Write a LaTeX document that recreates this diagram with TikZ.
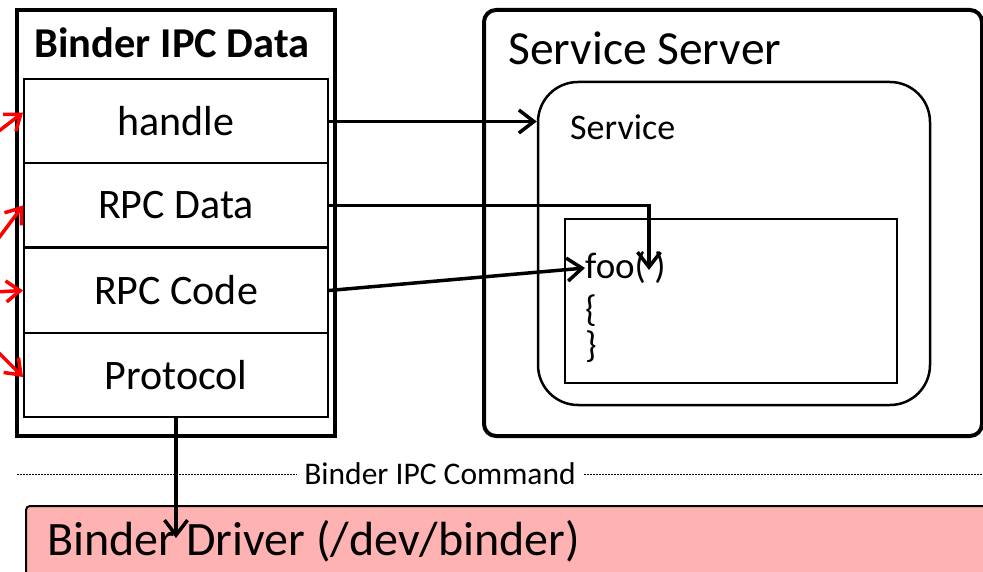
\documentclass[tikz,border=0pt]{standalone}
\usepackage{fontspec}
\setmainfont{Carlito}
\usetikzlibrary{arrows.meta}
\definecolor{driverpink}{RGB}{255,178,178}
\tikzset{
  field/.style={draw, line width=2pt, minimum width=304pt, minimum height=84pt, inner sep=0pt, font=\fontsize{42}{44}\selectfont},
  link/.style={-{Straight Barb[length=15pt,width=23pt,line width=3.5pt]}, line width=3.5pt},
  caller/.style={-{Straight Barb[length=14pt,width=21pt,line width=3.5pt]}, red, line width=3.5pt},
  cmdline/.style={line width=1pt, dash pattern=on 2pt off 1pt}
}
\begin{document}
\begin{tikzpicture}[x=1pt, y=-1pt]
  \useasboundingbox (0,0) rectangle (983,572);
  \clip (0,0) rectangle (983,572);

  \node[draw, line width=4pt, minimum width=318pt, minimum height=426pt] (ipcbox) at (176,223) {};
  \node[anchor=base, inner sep=0pt, font=\fontsize{42.5}{44}\selectfont\bfseries] (ipctitle) at (172,58) {Binder IPC Data};
  \node[field] (handle) at (176,121.5) {handle};
  \node[field] (rpcdata) at (176,205.5) {RPC Data};
  \node[field] (rpccode) at (176,290.5) {RPC Code};
  \node[field] (protocol) at (176,375) {Protocol};

  \node[draw, line width=4pt, rounded corners=12pt, minimum width=498pt, minimum height=426pt] (server) at (733,223) {};
  \node[anchor=base west, inner sep=0pt, font=\fontsize{47.5}{50}\selectfont] (servertitle) at (508,65) {Service Server};
  \node[draw, line width=2.5pt, rounded corners=40pt, minimum width=392pt, minimum height=323pt] (service) at (734,243.5) {};
  \node[anchor=west, inner sep=0pt, font=\fontsize{36}{38}\selectfont] (servicetitle) at (570,127) {Service};
  \node[draw, line width=2.5pt, minimum width=332pt, minimum height=164pt] (foobox) at (731,301) {};
  \node[anchor=west, inner sep=0pt, font=\fontsize{37}{38}\selectfont] (footext) at (585,268) {foo( )};
  \node[anchor=north west, inner sep=0pt, align=left, font=\fontsize{37}{36}\selectfont] (foobody) at (585,295) {\{\\\}};
  \coordinate (fooarg) at (649,270);

  \coordinate (cmdl) at (17,474);
  \coordinate (cmdr) at (990,474);
  \node[inner sep=0pt, font=\fontsize{31.5}{33}\selectfont] (cmd) at (440,474) {Binder IPC Command};
  \draw[cmdline] (cmdl) -- ([xshift=-8pt]cmd.west);
  \draw[cmdline] ([xshift=8pt]cmd.east) -- (cmdr);

  \node[draw, line width=2pt, fill=driverpink, rounded corners=4pt, anchor=north west, minimum width=980pt, minimum height=100pt] (driver) at (25,505) {};
  \node[anchor=base west, inner sep=0pt, font=\fontsize{48}{50}\selectfont] (drivertext) at (47,555) {Binder Driver (/dev/binder)};
  \coordinate (driverhit) at (176,538);

  \draw[link] (handle.east) -- (handle.east -| service.west);
  \draw[link] (rpcdata.east) -| (fooarg);
  \draw[link] (rpccode.east) -- (footext.west);
  \draw[link] (protocol.south) -- (driverhit);

  \coordinate (in1) at (-5,134);
  \coordinate (in2) at (-5,243);
  \coordinate (in3) at (-5,292);
  \coordinate (in4) at (-5,349);
  \draw[caller] (in1) -- ([yshift=9pt]handle.west);
  \draw[caller] (in2) -- (rpcdata.west);
  \draw[caller] (in3) -- (rpccode.west);
  \draw[caller] (in4) -- ([yshift=-2pt]protocol.west);
\end{tikzpicture}
\end{document}
